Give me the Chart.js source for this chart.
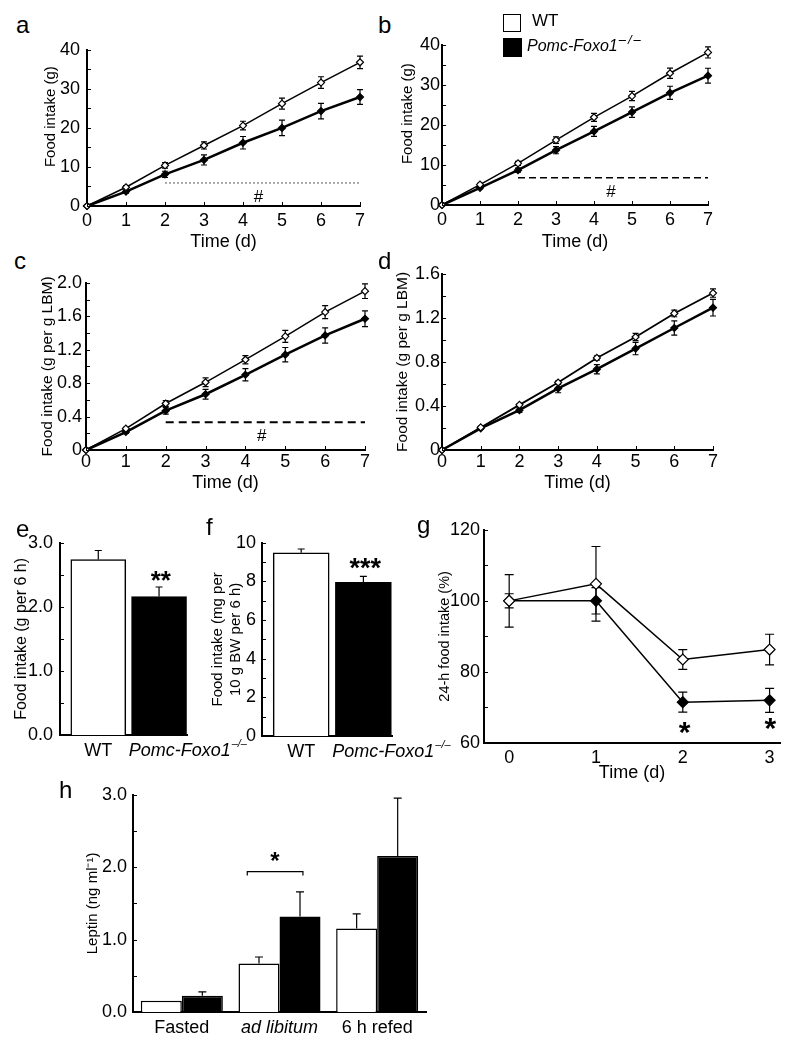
<!DOCTYPE html>
<html>
<head>
<meta charset="utf-8">
<script src="https://cdn.jsdelivr.net/npm/chart.js@4.4.0/dist/chart.umd.min.js"></script>
<style>
  body { margin: 0; background: #fff; font-family: "Liberation Sans", Arial, sans-serif; }
  #fig { position: relative; width: 787px; height: 1050px; overflow: hidden; }
  #fig canvas { position: absolute; }
  .tag { position: absolute; font-size: 24px; line-height: 24px; color: #000; }
  .box { position: absolute; box-sizing: border-box; border: 1.5px solid #000; }
  .lg { position: absolute; color: #000; white-space: nowrap; }
</style>
</head>
<body>
<div id="fig">
  <div class="tag" style="left:16px;top:13px">a</div>
  <div class="tag" style="left:378px;top:13px">b</div>
  <div class="tag" style="left:14px;top:249px">c</div>
  <div class="tag" style="left:378px;top:249px">d</div>
  <div class="tag" style="left:16px;top:517px">e</div>
  <div class="tag" style="left:206px;top:515px">f</div>
  <div class="tag" style="left:417px;top:513px">g</div>
  <div class="tag" style="left:59px;top:778px">h</div>

  <div class="box" style="left:503px;top:14px;width:18px;height:18px;background:#fff"></div>
  <div class="lg" style="left:532px;top:12px;font-size:17px;line-height:17px">WT</div>
  <div class="box" style="left:503px;top:38px;width:19px;height:19px;background:#000"></div>
  <div class="lg" style="left:527px;top:38px;font-size:16px;line-height:16px"><i>Pomc-Foxo1</i><span style="font-size:13px;letter-spacing:2px;position:relative;top:-7px;margin-left:1px"><i>–/–</i></span></div>
</div>
<script>
// ---------- data ----------
const days = [0, 1, 2, 3, 4, 5, 6, 7];
const dayLabels = ['0', '1', '2', '3', '4', '5', '6', '7'];

// a: cumulative food intake (g)
const wtIntakeA = [0, 4.8, 10.4, 15.5, 20.6, 26.2, 31.6, 36.8];
const wtErrA    = [0, 0.4, 0.7, 0.9, 1.1, 1.4, 1.5, 1.6];
const koIntakeA = [0, 3.7, 8.1, 11.8, 16.2, 20.0, 24.3, 27.9];
const koErrA    = [0, 0.4, 0.8, 1.3, 1.6, 2.0, 2.0, 1.9];
const yTicksA = [0, 10, 20, 30, 40];
const yLabelsA = ['0', '10', '20', '30', '40'];

// b: cumulative food intake (g)
const wtIntakeB = [0, 5.1, 10.4, 16.2, 21.9, 27.2, 32.9, 38.1];
const wtErrB    = [0, 0.3, 0.5, 0.8, 1.0, 1.15, 1.3, 1.4];
const koIntakeB = [0, 4.3, 8.7, 13.7, 18.4, 23.2, 28.0, 32.3];
const koErrB    = [0, 0.3, 0.5, 0.9, 1.25, 1.3, 1.65, 1.85];

// c: food intake per g lean body mass
const wtIntakeC = [0, 0.255, 0.556, 0.81, 1.08, 1.36, 1.65, 1.90];
const wtErrC    = [0, 0.015, 0.035, 0.053, 0.05, 0.072, 0.078, 0.088];
const koIntakeC = [0, 0.215, 0.47, 0.667, 0.90, 1.14, 1.37, 1.57];
const koErrC    = [0, 0.015, 0.04, 0.059, 0.074, 0.086, 0.092, 0.094];
const yTicksC = [0, 0.4, 0.8, 1.2, 1.6, 2.0];
const yLabelsC = ['0', '0.4', '0.8', '1.2', '1.6', '2.0'];

// d: food intake per g lean body mass
const wtIntakeD = [0, 0.205, 0.41, 0.613, 0.836, 1.026, 1.24, 1.425];
const wtErrD    = [0, 0.01, 0.01, 0.015, 0.02, 0.033, 0.03, 0.038];
const koIntakeD = [0, 0.197, 0.362, 0.559, 0.734, 0.921, 1.108, 1.292];
const koErrD    = [0, 0.01, 0.02, 0.039, 0.042, 0.056, 0.065, 0.075];
const yTicksD = [0, 0.4, 0.8, 1.2, 1.6];
const yLabelsD = ['0', '0.4', '0.8', '1.2', '1.6'];

// "#" significance span
const sigDays = [2, 7];
const sigLevelA = 5.9;
const sigLevelB = 6.8;
const sigLevelC = 0.333;

// e, f: 6-h refeeding
const genotypeLabels = ['WT', 'Pomc-Foxo1'];
const genotypeSup = '–/–';
const intake6h    = [2.74, 2.16];
const intake6hErr = [0.14, 0.15];
const yTicksE = [0, 1, 2, 3];
const yLabelsE = ['0.0', '1.0', '2.0', '3.0'];
const intakeBW    = [9.48, 7.96];
const intakeBWErr = [0.2, 0.3];
const yTicksF = [0, 2, 4, 6, 8, 10];
const yLabelsF = ['0', '2', '4', '6', '8', '10'];

// g: 24-h food intake (%)
const daysG = [0, 1, 2, 3];
const dayLabelsG = ['0', '1', '2', '3'];
const wtPctG    = [100, 104.8, 83.5, 86.3];
const wtPctErrG = [7.4, 10.5, 2.8, 4.3];
const koPctG    = [100, 100, 71.5, 72];
const koPctErrG = [2.0, 3.7, 2.8, 3.4];
const yTicksG = [60, 80, 100, 120];
const yLabelsG = ['60', '80', '100', '120'];

// h: leptin
const mealStates = ['Fasted', 'ad libitum', '6 h refed'];
const wtLeptin    = [0.157, 0.67, 1.155];
const wtLeptinErr = [0, 0.09, 0.2];
const koLeptin    = [0.224, 1.32, 2.155];
const koLeptinErr = [0.055, 0.34, 0.80];
const yTicksH = [0, 1, 2, 3];
const yLabelsH = ['0.0', '1.0', '2.0', '3.0'];

// ---------- setup ----------
const FONT = '"Liberation Sans", Arial, sans-serif';
Chart.defaults.font.family = FONT;
Chart.defaults.color = '#000';
const PAD_T = 12, PAD_R = 14;
const AXIS_W = 2;

// error bars (symmetric, or upper only for bars)
const errorBars = {
  id: 'errorBars',
  beforeDatasetsDraw(chart) {
    const ctx = chart.ctx, y = chart.scales.y;
    chart.data.datasets.forEach((ds, i) => {
      if (!ds.errors) return;
      const meta = chart.getDatasetMeta(i);
      ctx.save();
      ctx.strokeStyle = '#000';
      ctx.lineWidth = 1.2;
      meta.data.forEach((el, j) => {
        const e = ds.errors[j];
        if (!e) return;
        const raw = ds.data[j];
        const v = typeof raw === 'object' ? raw.y : raw;
        const top = y.getPixelForValue(v + e);
        const bot = ds.errUpOnly ? el.y : y.getPixelForValue(v - e);
        const h = ds.capW / 2;
        ctx.beginPath();
        ctx.moveTo(el.x, top); ctx.lineTo(el.x, bot);
        ctx.moveTo(el.x - h, top); ctx.lineTo(el.x + h, top);
        if (!ds.errUpOnly) { ctx.moveTo(el.x - h, bot); ctx.lineTo(el.x + h, bot); }
        ctx.stroke();
      });
      ctx.restore();
    });
  }
};

// small tick marks pointing into the plot
const innerTicks = {
  id: 'innerTicks',
  afterDraw(chart, args, opts) {
    if (!opts.len) return;
    const { ctx, chartArea: a, scales: { x, y } } = chart;
    const yv = y.ticks.map(t => t.value);
    const all = opts.minor ? yv.concat(yv.slice(1).map((v, i) => (v + yv[i]) / 2)) : yv;
    ctx.save();
    ctx.strokeStyle = '#000';
    ctx.lineWidth = 1;
    ctx.beginPath();
    all.forEach(v => {
      const p = Math.round(y.getPixelForValue(v)) + 0.5;
      ctx.moveTo(a.left, p); ctx.lineTo(a.left + opts.len, p);
    });
    if (opts.x) x.ticks.forEach(t => {
      const p = Math.round(x.getPixelForValue(t.value)) + 0.5;
      ctx.moveTo(p, a.bottom); ctx.lineTo(p, a.bottom - opts.len);
    });
    ctx.stroke();
    ctx.restore();
  }
};

// "#", asterisks and brackets placed in data coordinates
const textMarks = {
  id: 'textMarks',
  afterDatasetsDraw(chart, args, opts) {
    if (!opts.items) return;
    const { ctx, scales: { x, y } } = chart;
    ctx.save();
    ctx.fillStyle = '#000';
    ctx.strokeStyle = '#000';
    opts.items.forEach(m => {
      if (m.bracket) {
        const x0 = x.getPixelForValue(m.bracket[0]), x1 = x.getPixelForValue(m.bracket[1]);
        const py = y.getPixelForValue(m.y);
        ctx.lineWidth = 1.2;
        ctx.beginPath();
        ctx.moveTo(x0, py + m.drop); ctx.lineTo(x0, py); ctx.lineTo(x1, py); ctx.lineTo(x1, py + m.drop);
        ctx.stroke();
        return;
      }
      ctx.font = m.font + ' ' + FONT;
      ctx.textAlign = 'center';
      ctx.textBaseline = 'alphabetic';
      ctx.fillText(m.text, x.getPixelForValue(m.x), y.getPixelForValue(m.y));
    });
    ctx.restore();
  }
};

// WT / Pomc-Foxo1-/- labels under panels e and f
const genotypeAxis = {
  id: 'genotypeAxis',
  afterDraw(chart, args, opts) {
    if (!opts.labels) return;
    const { ctx, scales: { x }, chartArea: a } = chart;
    const py = a.bottom + opts.dy;
    ctx.save();
    ctx.fillStyle = '#000';
    ctx.textBaseline = 'middle';
    ctx.font = '18px ' + FONT;
    ctx.textAlign = 'center';
    ctx.fillText(opts.labels[0], x.getPixelForValue(1), py);
    ctx.font = 'italic 18px ' + FONT;
    ctx.textAlign = 'left';
    const x0 = x.getPixelForValue(opts.mutantStart);
    ctx.fillText(opts.labels[1], x0, py);
    const w = ctx.measureText(opts.labels[1]).width;
    ctx.font = 'italic 11px ' + FONT;
    ctx.fillText(opts.sup, x0 + w + 1, py - 7);
    ctx.restore();
  }
};

Chart.register(errorBars, innerTicks, textMarks, genotypeAxis);

function makeCanvas(id, box, yW, xH, padR) {
  const c = document.createElement('canvas');
  c.id = id;
  const w = yW + (box.R - box.L) + padR;
  const h = PAD_T + (box.B - box.T) + xH;
  c.width = w; c.height = h;
  c.style.left = (box.L - yW) + 'px';
  c.style.top = (box.T - PAD_T) + 'px';
  c.style.width = w + 'px';
  c.style.height = h + 'px';
  document.getElementById('fig').insertBefore(c, document.querySelector('.tag'));
  return c;
}

function yAxis(o) {
  return {
    min: o.yTicks[0], max: o.yTicks[o.yTicks.length - 1],
    afterBuildTicks: s => { s.ticks = o.yTicks.map(v => ({ value: v })); },
    afterFit: s => { s.width = o.yW; },
    grid: { display: false, drawTicks: false },
    border: { color: '#000', width: AXIS_W },
    ticks: { font: { size: 18 }, padding: o.yPad, callback: (v, i) => o.yLabels[i] },
    title: { display: true, text: o.yTitle, font: { size: o.titleSize || 15, lineHeight: 1.25 }, padding: 0 }
  };
}

function series(xs, ys, errs, fill, lw, r, cap) {
  return {
    data: xs.map((x, i) => ({ x, y: ys[i] })),
    errors: errs, capW: cap,
    borderColor: '#000', borderWidth: lw, tension: 0,
    pointStyle: 'rectRot', pointRadius: r,
    pointBackgroundColor: fill, pointBorderColor: '#000', pointBorderWidth: 1.2,
    clip: false
  };
}

function lineChart(id, box, o) {
  const canvas = makeCanvas(id, box, o.yW, o.xH, PAD_R);
  const datasets = [
    series(o.x, o.wt, o.wtErr, '#fff', o.wtLine, o.r, o.cap),
    series(o.x, o.ko, o.koErr, '#000', o.koLine, o.r, o.cap)
  ];
  if (o.sig) datasets.push({
    data: sigDays.map(d => ({ x: d, y: o.sig.level })),
    borderColor: o.sig.color, borderWidth: o.sig.width, borderDash: o.sig.dash, pointRadius: 0
  });
  return new Chart(canvas, {
    type: 'line',
    data: { datasets },
    options: {
      responsive: false, animation: false,
      layout: { padding: { top: PAD_T, right: PAD_R } },
      plugins: {
        legend: { display: false }, tooltip: { enabled: false },
        innerTicks: { len: 4, minor: true, x: o.xInner },
        textMarks: { items: o.marks || [] }
      },
      scales: {
        x: {
          type: 'linear', min: o.xMin, max: o.xMax,
          afterBuildTicks: s => { s.ticks = o.x.map(v => ({ value: v })); },
          afterFit: s => { s.height = o.xH; },
          grid: { display: false, drawTicks: false },
          border: { color: '#000', width: AXIS_W },
          ticks: { font: { size: 18 }, padding: o.xPad, maxRotation: 0, autoSkip: false,
                   callback: (v, i) => o.xLabels[i] },
          title: { display: true, text: 'Time (d)', font: { size: 18 }, padding: 0 }
        },
        y: yAxis(o)
      }
    }
  });
}

// leading en spaces lift the title along the axis, as in the original layout
const LIFT = '\u2002\u2002\u2002';

// a
lineChart('chartA', { L: 87, T: 44, R: 360, B: 206 }, {
  x: days, xLabels: dayLabels, xMin: 0, xMax: 7, wt: wtIntakeA, wtErr: wtErrA, ko: koIntakeA, koErr: koErrA,
  yTicks: yTicksA, yLabels: yLabelsA, yTitle: LIFT + 'Food intake (g)', yW: 46, xH: 47, yPad: 7, xPad: 4,
  wtLine: 1.5, koLine: 2.5, r: 3.5, cap: 6, xInner: true,
  sig: { level: sigLevelA, color: '#555', width: 1, dash: [2, 2] },
  marks: [{ text: '#', x: 4.4, y: 1.06, font: '17px' }]
});

// b
lineChart('chartB', { L: 442, T: 44, R: 708, B: 205 }, {
  x: days, xLabels: dayLabels, xMin: 0, xMax: 7, wt: wtIntakeB, wtErr: wtErrB, ko: koIntakeB, koErr: koErrB,
  yTicks: yTicksA, yLabels: yLabelsA, yTitle: LIFT + 'Food intake (g)', yW: 44, xH: 48, yPad: 2, xPad: 4,
  wtLine: 1.5, koLine: 2.5, r: 3.5, cap: 6, xInner: true,
  sig: { level: sigLevelB, color: '#000', width: 1.5, dash: [7, 4] },
  marks: [{ text: '#', x: 4.45, y: 2.06, font: '17px' }]
});

// c
lineChart('chartC', { L: 86, T: 280, R: 365, B: 450 }, {
  x: days, xLabels: dayLabels, xMin: 0, xMax: 7, wt: wtIntakeC, wtErr: wtErrC, ko: koIntakeC, koErr: koErrC,
  yTicks: yTicksC, yLabels: yLabelsC, yTitle: 'Food intake (g per g LBM)', yW: 48, xH: 44, yPad: 4, xPad: 1,
  wtLine: 1.5, koLine: 2.5, r: 3.5, cap: 6, xInner: true, titleSize: 15.5,
  sig: { level: sigLevelC, color: '#000', width: 2, dash: [8, 5] },
  marks: [{ text: '#', x: 4.41, y: 0.11, font: '17px' }]
});

// d
lineChart('chartD', { L: 442, T: 273, R: 713, B: 450 }, {
  x: days, xLabels: dayLabels, xMin: 0, xMax: 7, wt: wtIntakeD, wtErr: wtErrD, ko: koIntakeD, koErr: koErrD,
  yTicks: yTicksD, yLabels: yLabelsD, yTitle: 'Food intake (g per g LBM)', yW: 49, xH: 44, yPad: 2, xPad: 1,
  wtLine: 1.8, koLine: 2.5, r: 3.5, cap: 6, xInner: true, titleSize: 15.5
});

// g
lineChart('chartG', { L: 484, T: 527, R: 780, B: 743 }, {
  x: daysG, xLabels: dayLabelsG, xMin: -0.29, xMax: 3.12, wt: wtPctG, wtErr: wtPctErrG, ko: koPctG, koErr: koPctErrG,
  yTicks: yTicksG, yLabels: yLabelsG, yTitle: '24-h food intake (%)', yW: 48, xH: 41, yPad: 4, xPad: 4,
  wtLine: 1.5, koLine: 1.5, r: 5.5, cap: 9, xInner: false, titleSize: 14.5,
  marks: [
    { text: '*', x: 2.02, y: 60.2, font: 'bold 30px' },
    { text: '*', x: 3.01, y: 61.4, font: 'bold 30px' }
  ]
});

// e, f: two bars on a linear axis (WT at 1, mutant at 2)
function genotypeBars(id, box, o) {
  const canvas = makeCanvas(id, box, o.yW, o.xH, 75);
  return new Chart(canvas, {
    type: 'bar',
    data: {
      datasets: [{
        data: o.values.map((v, i) => ({ x: i + 1, y: v })),
        errors: o.errs, errUpOnly: true, capW: 7,
        backgroundColor: ['#fff', '#000'], borderColor: '#000', borderWidth: 1.5,
        barThickness: o.barW
      }]
    },
    options: {
      responsive: false, animation: false,
      layout: { padding: { top: PAD_T, right: 75 } },
      plugins: {
        legend: { display: false }, tooltip: { enabled: false },
        innerTicks: { len: 4, minor: true },
        textMarks: { items: o.marks },
        genotypeAxis: { labels: genotypeLabels, sup: genotypeSup, mutantStart: 1.5, dy: 16 }
      },
      scales: {
        x: {
          type: 'linear', min: 0.37, max: 2.46, offset: false,
          afterBuildTicks: s => { s.ticks = o.values.map((v, i) => ({ value: i + 1 })); },
          afterFit: s => { s.height = o.xH; },
          grid: { display: false, drawTicks: false },
          border: { color: '#000', width: AXIS_W },
          ticks: { display: false }
        },
        y: yAxis(o)
      }
    }
  });
}

genotypeBars('chartE', { L: 60, T: 537, R: 187, B: 735 }, {
  values: intake6h, errs: intake6hErr, barW: 55,
  yTicks: yTicksE, yLabels: yLabelsE, yTitle: 'Food intake (g per 6 h)', yW: 48, xH: 30, yPad: 7, titleSize: 16,
  marks: [{ text: '**', x: 2.03, y: 2.28, font: 'bold 26px' }]
});

genotypeBars('chartF', { L: 262, T: 538, R: 392, B: 736 }, {
  values: intakeBW, errs: intakeBWErr, barW: 56,
  yTicks: yTicksF, yLabels: yLabelsF, yTitle: ['Food intake (mg per', '10 g BW per 6 h)'], yW: 54, xH: 30, yPad: 6,
  marks: [{ text: '***', x: 2.03, y: 8.21, font: 'bold 27px' }]
});

// h
const boxH = { L: 133, T: 790, R: 426, B: 1012 };
const optH = { yTicks: yTicksH, yLabels: yLabelsH, yTitle: 'Leptin (ng ml⁻¹)', yW: 50, yPad: 6 };
new Chart(makeCanvas('chartH', boxH, 50, 30, PAD_R), {
  type: 'bar',
  data: {
    labels: mealStates,
    datasets: [
      { data: wtLeptin, errors: wtLeptinErr, errUpOnly: true, capW: 8,
        backgroundColor: '#fff', borderColor: '#000', borderWidth: 1.5,
        categoryPercentage: 0.84, barPercentage: 1.0 },
      { data: koLeptin, errors: koLeptinErr, errUpOnly: true, capW: 8,
        backgroundColor: '#000', borderColor: '#000', borderWidth: 1.5,
        categoryPercentage: 0.84, barPercentage: 1.0 }
    ]
  },
  options: {
    responsive: false, animation: false,
    layout: { padding: { top: PAD_T, right: PAD_R } },
    plugins: {
      legend: { display: false }, tooltip: { enabled: false },
      innerTicks: { len: 4, minor: true },
      textMarks: { items: [
        { bracket: [0.67, 1.24], y: 1.94, drop: 4 },
        { text: '*', x: 0.953, y: 1.97, font: 'bold 24px' }
      ] }
    },
    scales: {
      x: {
        offset: true,
        afterFit: s => { s.height = 30; },
        grid: { display: false, drawTicks: false },
        border: { color: '#000', width: AXIS_W },
        ticks: { padding: 5, font: c => ({ size: 18, style: c.index === 1 ? 'italic' : 'normal' }) }
      },
      y: yAxis(optH)
    }
  }
});
</script>
</body>
</html>
